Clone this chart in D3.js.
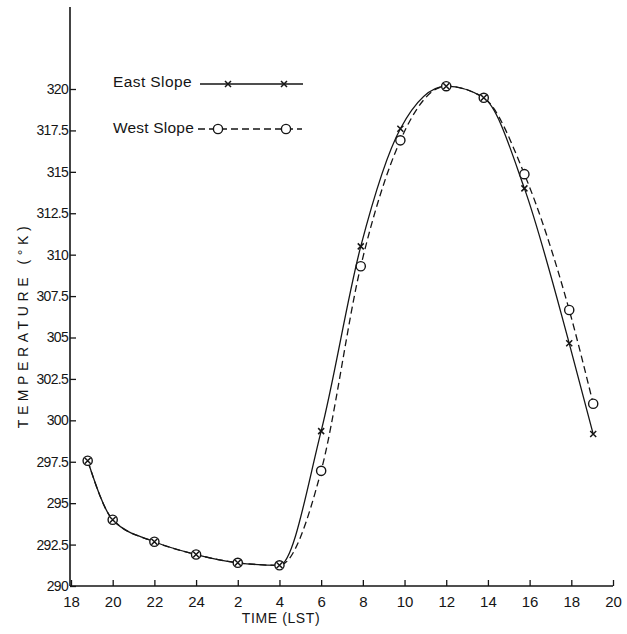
<!DOCTYPE html>
<html>
<head>
<meta charset="utf-8">
<script src="https://cdn.jsdelivr.net/npm/d3@7"></script>
<style>
  html, body { margin: 0; padding: 0; background: #fff; }
  svg { display: block; }
  text { font-family: "Liberation Sans", "DejaVu Sans", sans-serif; fill: #151515; }
</style>
</head>
<body>
<svg id="chart" width="627" height="634"></svg>
<script>
// Elapsed hours since 18 LST of the first evening
const times = [0.8, 2, 4, 6, 8, 10, 12, 13.9, 15.8, 18, 19.8, 21.75, 23.9, 25.05];
const eastSlope = [297.56, 294.0, 292.67, 291.9, 291.4, 291.25, 299.35, 310.5, 317.6, 320.17, 319.47, 314.0, 304.65, 299.17];
const westSlope = [297.56, 294.0, 292.67, 291.9, 291.4, 291.25, 296.95, 309.3, 316.9, 320.17, 319.47, 314.86, 306.66, 301.0];

const xTickValues = [0, 2, 4, 6, 8, 10, 12, 14, 16, 18, 20, 22, 24, 26];
const xTickLabels = ["18", "20", "22", "24", "2", "4", "6", "8", "10", "12", "14", "16", "18", "20"];
const yTickValues = [290, 292.5, 295, 297.5, 300, 302.5, 305, 307.5, 310, 312.5, 315, 317.5, 320];
const yTickLabels = ["290", "292.5", "295", "297.5", "300", "302.5", "305", "307.5", "310", "312.5", "315", "317.5", "320"];

const seriesNames = ["East Slope", "West Slope"];

const svg = d3.select("#chart");
const ink = "#151515";

const x = d3.scaleLinear().domain([0, 26]).range([71, 613]);
const y = d3.scaleLinear().domain([290, 320]).range([586, 89]);

// Axes
const yAxis = d3.axisLeft(y)
  .tickValues(yTickValues)
  .tickFormat((d, i) => yTickLabels[i])
  .tickSizeInner(-6).tickSizeOuter(0).tickPadding(4);
const gy = svg.append("g").attr("transform", "translate(70,0)").call(yAxis);
gy.select(".domain").remove();
gy.selectAll(".tick line").attr("stroke", ink).attr("stroke-width", 1.3);
gy.selectAll(".tick text").attr("font-size", 14).attr("letter-spacing", -0.7)
  .attr("x", -2).attr("fill", ink);
svg.append("line").attr("x1", 70).attr("x2", 70).attr("y1", 7).attr("y2", 586)
  .attr("stroke", ink).attr("stroke-width", 1.6);

const xAxis = d3.axisBottom(x)
  .tickValues(xTickValues)
  .tickFormat((d, i) => xTickLabels[i])
  .tickSizeInner(-6).tickSizeOuter(0).tickPadding(8);
const gx = svg.append("g").attr("transform", "translate(0,586)").call(xAxis);
gx.select(".domain").remove();
gx.selectAll(".tick line").attr("stroke", ink).attr("stroke-width", 1.3);
gx.selectAll(".tick text").attr("font-size", 15).attr("fill", ink).attr("y", 10);
svg.append("line").attr("x1", 70).attr("x2", 613).attr("y1", 586).attr("y2", 586)
  .attr("stroke", ink).attr("stroke-width", 1.6);

// Axis titles
svg.append("text")
  .attr("transform", "translate(28,325) rotate(-90)")
  .attr("text-anchor", "middle")
  .attr("font-size", 14)
  .attr("letter-spacing", 4.6)
  .text("TEMPERATURE (°K)");
svg.append("text")
  .attr("x", 281).attr("y", 623)
  .attr("text-anchor", "middle")
  .attr("font-size", 14)
  .attr("letter-spacing", 0.6)
  .text("TIME (LST)");

// Lines
const line = d3.line()
  .x(d => x(d[0]))
  .y(d => y(d[1]))
  .curve(d3.curveMonotoneX);

const eastData = times.map((t, i) => [t, eastSlope[i]]);
const westData = times.map((t, i) => [t, westSlope[i]]);

svg.append("path").datum(westData).attr("d", line)
  .attr("fill", "none").attr("stroke", ink).attr("stroke-width", 1.3)
  .attr("stroke-dasharray", "7,4");
svg.append("path").datum(eastData).attr("d", line)
  .attr("fill", "none").attr("stroke", ink).attr("stroke-width", 1.3);

// Markers
function cross(g, cx, cy, s) {
  g.append("path")
    .attr("d", `M${cx - s},${cy - s}L${cx + s},${cy + s}M${cx - s},${cy + s}L${cx + s},${cy - s}`)
    .attr("stroke", ink).attr("stroke-width", 1.5).attr("fill", "none");
}
const mk = svg.append("g");
westData.forEach(d => {
  mk.append("circle").attr("cx", x(d[0])).attr("cy", y(d[1])).attr("r", 4.6)
    .attr("fill", "#fff").attr("stroke", ink).attr("stroke-width", 1.4);
});
eastData.forEach(d => cross(mk, x(d[0]), y(d[1]), 3));

// Legend
const leg = svg.append("g");
leg.append("text").attr("x", 113).attr("y", 87).attr("font-size", 15.5).attr("letter-spacing", 0.4).text(seriesNames[0]);
leg.append("line").attr("x1", 200).attr("x2", 303).attr("y1", 84).attr("y2", 84)
  .attr("stroke", ink).attr("stroke-width", 1.3);
cross(leg, 228, 84, 3);
cross(leg, 284, 84, 3);

leg.append("text").attr("x", 113).attr("y", 133).attr("font-size", 15.5).attr("letter-spacing", 0.2).text(seriesNames[1]);
leg.append("line").attr("x1", 198).attr("x2", 302).attr("y1", 129).attr("y2", 129)
  .attr("stroke", ink).attr("stroke-width", 1.3).attr("stroke-dasharray", "7,4");
[218, 286].forEach(cx => {
  leg.append("circle").attr("cx", cx).attr("cy", 129).attr("r", 4.6)
    .attr("fill", "#fff").attr("stroke", ink).attr("stroke-width", 1.4);
});
</script>
</body>
</html>
